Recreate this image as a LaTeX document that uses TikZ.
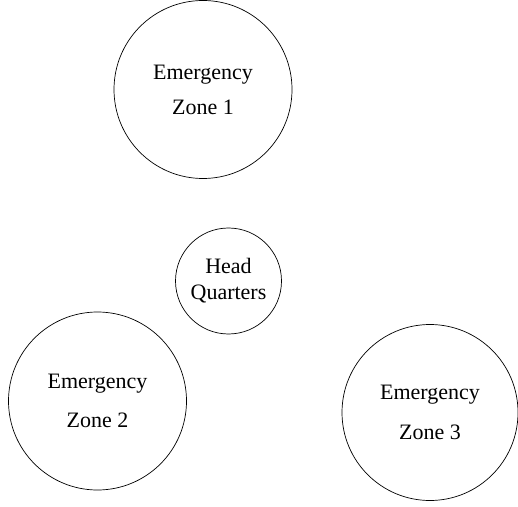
\documentclass[tikz,border=0pt]{standalone}
\usepackage{fontspec}
\setmainfont{Liberation Serif}
\begin{document}
\begin{tikzpicture}[x=1pt,y=1pt,
  zone/.style={draw=black,line width=0.7pt,circle,inner sep=0pt,align=center},
  big/.style={zone,minimum size=178pt},
  hq/.style={zone,minimum size=106pt,font=\fontsize{22}{26}\selectfont}]
\useasboundingbox (0,0) rectangle (518,506);
\node[big,font=\fontsize{22}{35}\selectfont] (z1) at (203,416.5) {Emergency\\Zone 1};
\node[hq] (hq) at (228.5,225) {Head\\Quarters};
\node[big,font=\fontsize{22}{39}\selectfont] (z2) at (97.5,105) {Emergency\\Zone 2};
\node[big,font=\fontsize{22}{40}\selectfont,minimum size=176pt] (z3) at (430,93.5) {Emergency\\Zone 3};
\end{tikzpicture}
\end{document}
